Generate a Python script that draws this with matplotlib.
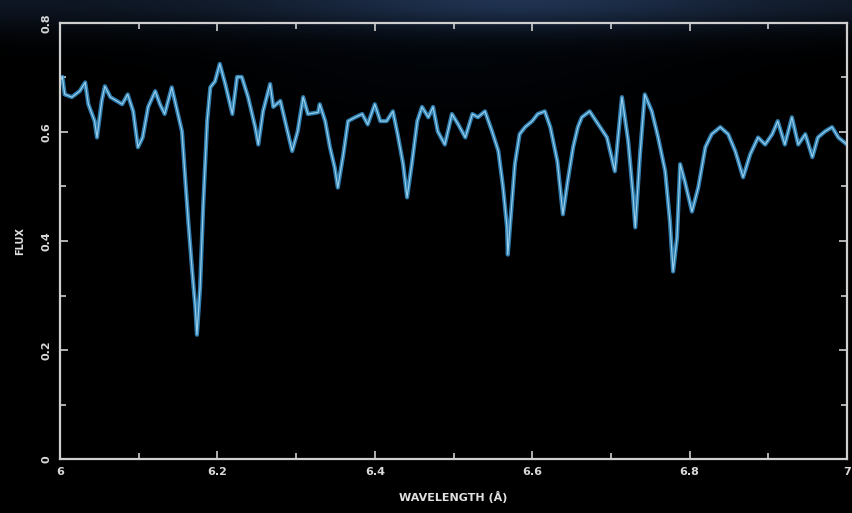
import numpy as np
import matplotlib
matplotlib.use("Agg")
import matplotlib.pyplot as plt
from matplotlib.ticker import MultipleLocator

# spectrum: wavelength (Angstrom) and flux
wavelength = [6.000, 6.003, 6.006, 6.015, 6.025, 6.032, 6.036, 6.044, 6.047, 6.053,
              6.057, 6.064, 6.072, 6.079, 6.086, 6.093, 6.099, 6.105, 6.112, 6.121,
              6.127, 6.133, 6.142, 6.149, 6.155, 6.159, 6.163, 6.168, 6.172, 6.174,
              6.178, 6.182, 6.187, 6.191, 6.197, 6.203, 6.210, 6.219, 6.225, 6.231,
              6.239, 6.248, 6.252, 6.258, 6.267, 6.271, 6.280, 6.286, 6.295, 6.302,
              6.309, 6.315, 6.328, 6.330, 6.337, 6.343, 6.349, 6.353, 6.360, 6.366,
              6.375, 6.384, 6.391, 6.400, 6.407, 6.415, 6.423, 6.429, 6.436, 6.441,
              6.447, 6.454, 6.460, 6.468, 6.474, 6.480, 6.489, 6.498, 6.506, 6.515,
              6.524, 6.531, 6.540, 6.549, 6.557, 6.563, 6.568, 6.569, 6.574, 6.578,
              6.584, 6.591, 6.600, 6.607, 6.616, 6.623, 6.632, 6.639, 6.645, 6.652,
              6.658, 6.663, 6.673, 6.684, 6.695, 6.705, 6.714, 6.722, 6.728, 6.731,
              6.737, 6.743, 6.752, 6.760, 6.769, 6.775, 6.779, 6.784, 6.788, 6.794,
              6.803, 6.811, 6.820, 6.828, 6.839, 6.849, 6.858, 6.868, 6.877, 6.887,
              6.896, 6.905, 6.912, 6.921, 6.930, 6.938, 6.947, 6.956, 6.963, 6.972,
              6.981, 6.989, 7.000]
flux = [0.693, 0.701, 0.669, 0.664, 0.675, 0.691, 0.651, 0.620, 0.590, 0.657,
        0.684, 0.664, 0.657, 0.651, 0.669, 0.638, 0.572, 0.590, 0.646, 0.675,
        0.651, 0.633, 0.682, 0.638, 0.601, 0.517, 0.436, 0.344, 0.278, 0.228,
        0.314, 0.467, 0.620, 0.682, 0.693, 0.725, 0.688, 0.633, 0.701, 0.701,
        0.664, 0.609, 0.577, 0.638, 0.688, 0.646, 0.657, 0.620, 0.565, 0.601,
        0.664, 0.633, 0.636, 0.651, 0.620, 0.572, 0.535, 0.498, 0.559, 0.620,
        0.627, 0.633, 0.614, 0.651, 0.620, 0.620, 0.638, 0.596, 0.541, 0.480,
        0.541, 0.620, 0.646, 0.627, 0.646, 0.601, 0.577, 0.633, 0.614, 0.590,
        0.633, 0.627, 0.638, 0.601, 0.565, 0.498, 0.425, 0.375, 0.467, 0.541,
        0.596, 0.609, 0.620, 0.633, 0.638, 0.609, 0.546, 0.449, 0.509, 0.572,
        0.609, 0.627, 0.638, 0.614, 0.590, 0.528, 0.664, 0.583, 0.486, 0.425,
        0.559, 0.669, 0.638, 0.590, 0.528, 0.436, 0.344, 0.406, 0.541, 0.509,
        0.454, 0.498, 0.572, 0.596, 0.609, 0.596, 0.565, 0.517, 0.559, 0.590,
        0.577, 0.596, 0.620, 0.577, 0.627, 0.577, 0.596, 0.554, 0.590, 0.601,
        0.609, 0.590, 0.577]

xticks = [6, 6.2, 6.4, 6.6, 6.8, 7]
xticklabels = ["6", "6.2", "6.4", "6.6", "6.8", "7"]
yticks = [0, 0.2, 0.4, 0.6, 0.8]
yticklabels = ["0", "0.2", "0.4", "0.6", "0.8"]

fig = plt.figure(figsize=(8.52, 5.13), dpi=100)
fig.patch.set_facecolor("black")

# dark sky backdrop with a faint blue haze along the top
bg = fig.add_axes([0, 0, 1, 1], zorder=-10)
h, w = 513, 852
yy, xx = np.mgrid[0:h, 0:w]
haze = np.exp(-(yy / 30.0) ** 2) * (0.45 + 0.55 * np.exp(-((xx - 520) / 240.0) ** 2))
haze2 = 0.3 * np.exp(-((yy - 60) / 60.0) ** 2) * np.exp(-((xx - 450) / 250.0) ** 2)
img = np.zeros((h, w, 3))
img[..., 0] = 0.12 * haze + 0.02 * haze2
img[..., 1] = 0.19 * haze + 0.05 * haze2
img[..., 2] = 0.30 * haze + 0.10 * haze2
bg.imshow(img, aspect="auto", extent=[0, 1, 0, 1])
bg.axis("off")

ax = fig.add_axes([60 / 852, 54 / 513, 787 / 852, 436 / 513])
ax.set_facecolor("none")

ax.plot(wavelength, flux, color="#3c9fdc", lw=3.0, alpha=0.8, solid_joinstyle="round")
ax.plot(wavelength, flux, color="#a9d9f2", lw=0.8, alpha=0.9, solid_joinstyle="round")

ax.set_xlim(6, 7)
ax.set_ylim(0, 0.8)

fg = "#cfcfcf"
for s in ax.spines.values():
    s.set_color(fg)
    s.set_linewidth(1.6)

ax.set_xticks(xticks)
ax.set_xticklabels(xticklabels)
ax.set_yticks(yticks)
ax.set_yticklabels(yticklabels, rotation=90, va="center")
ax.xaxis.set_minor_locator(MultipleLocator(0.1))
ax.yaxis.set_minor_locator(MultipleLocator(0.1))
ax.tick_params(which="both", direction="in", top=True, right=True, colors=fg,
               labelsize=8, width=1.2)
ax.tick_params(which="major", length=6, pad=6)
ax.tick_params(which="minor", length=4)
for lab in ax.get_xticklabels() + ax.get_yticklabels():
    lab.set_fontweight("bold")
    lab.set_color("#d8d8d8")

ax.set_xlabel("WAVELENGTH (Å)", color="#e0e0e0", fontsize=8, fontweight="bold", labelpad=10)
ax.set_ylabel("FLUX", color="#e0e0e0", fontsize=7, fontweight="bold", labelpad=12)

fig.savefig("out.png", dpi=100, facecolor=fig.get_facecolor())
